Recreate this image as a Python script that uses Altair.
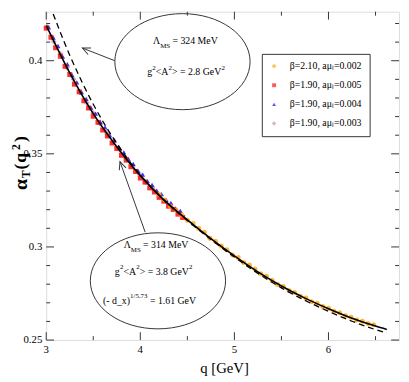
import altair as alt
import pandas as pd

# ---------------- data ----------------
series_names = ["β=2.10, aμₗ=0.002", "β=1.90, aμₗ=0.005",
                "β=1.90, aμₗ=0.004", "β=1.90, aμₗ=0.003"]
series_colors = ["#FFA500", "#FF0000", "#0000FF", "#BC8F8F"]
series_shapes = ["circle", "square", "triangle-up", "cross"]

q_orange = [4.20, 4.26, 4.32, 4.38, 4.44, 4.50, 4.56, 4.62, 4.68, 4.74, 4.80, 4.86, 4.92,
            4.98, 5.04, 5.10, 5.16, 5.22, 5.28, 5.34, 5.40, 5.46, 5.52, 5.58, 5.64, 5.70,
            5.76, 5.82, 5.88, 5.94, 6.00, 6.06, 6.12, 6.18, 6.24, 6.30, 6.36, 6.42, 6.48]
a_orange = [0.3282, 0.3252, 0.3219, 0.3199, 0.3172, 0.3143, 0.3126, 0.3100, 0.3079, 0.3047,
            0.3031, 0.3005, 0.2985, 0.2957, 0.2943, 0.2916, 0.2903, 0.2881, 0.2856, 0.2842,
            0.2821, 0.2798, 0.2788, 0.2766, 0.2756, 0.2735, 0.2726, 0.2706, 0.2698, 0.2680,
            0.2671, 0.2654, 0.2647, 0.2630, 0.2623, 0.2607, 0.2601, 0.2589, 0.2582]

q_red = [3.00, 3.05, 3.10, 3.15, 3.20, 3.25, 3.30, 3.35, 3.40, 3.45, 3.50, 3.55, 3.60, 3.65,
         3.70, 3.75, 3.80, 3.85, 3.90, 3.95, 4.00, 4.05, 4.10, 4.15, 4.20, 4.25, 4.30, 4.35,
         4.40, 4.45]
a_red = [0.4175, 0.4126, 0.4070, 0.4024, 0.3970, 0.3926, 0.3874, 0.3833, 0.3785, 0.3746,
         0.3702, 0.3669, 0.3628, 0.3596, 0.3558, 0.3529, 0.3492, 0.3466, 0.3431, 0.3405,
         0.3370, 0.3348, 0.3317, 0.3295, 0.3266, 0.3246, 0.3219, 0.3201, 0.3176, 0.3158]

q_blue = [3.025, 3.075, 3.125, 3.175, 3.225, 3.275, 3.325, 3.375, 3.425, 3.475, 3.525, 3.575,
          3.625, 3.675, 3.725, 3.775, 3.825, 3.875, 3.925, 3.975, 4.025, 4.075, 4.125, 4.175,
          4.225, 4.275, 4.325, 4.375, 4.425]
a_blue = [0.4180, 0.4124, 0.4079, 0.4022, 0.3981, 0.3923, 0.3884, 0.3831, 0.3795, 0.3748,
          0.3716, 0.3671, 0.3642, 0.3600, 0.3573, 0.3534, 0.3508, 0.3471, 0.3446, 0.3410,
          0.3388, 0.3353, 0.3333, 0.3302, 0.3284, 0.3252, 0.3236, 0.3207, 0.3194]

q_brown = [3.01, 3.08, 3.15, 3.22, 3.29, 3.36, 3.43, 3.50, 3.57, 3.64, 3.71, 3.78, 3.85, 3.92,
           3.99, 4.06, 4.13, 4.20, 4.27, 4.34, 4.41]
a_brown = [0.4182, 0.4103, 0.4038, 0.3962, 0.3900, 0.3829, 0.3775, 0.3719, 0.3661, 0.3615,
           0.3563, 0.3521, 0.3478, 0.3430, 0.3391, 0.3348, 0.3316, 0.3274, 0.3244, 0.3210,
           0.3184]

q_fit = [3.00, 3.25, 3.50, 3.75, 4.00, 4.25, 4.50, 4.75, 5.00, 5.25, 5.50, 5.75, 6.00,
         6.25, 6.50, 6.62]
a_fit_solid = [0.4190, 0.3935, 0.3716, 0.3538, 0.3383, 0.3253, 0.3145, 0.3045, 0.2952,
               0.2866, 0.2790, 0.2725, 0.2668, 0.2617, 0.2575, 0.2557]
a_fit_dashed = [0.4350, 0.4030, 0.3766, 0.3556, 0.3386, 0.3252, 0.3142, 0.3040, 0.2946,
                0.2858, 0.2780, 0.2713, 0.2654, 0.2601, 0.2556, 0.2537]

x_major = [3, 4, 5, 6]
x_labels = ["3", "4", "5", "6"]
x_minor = [3.5, 4.5, 5.5, 6.5]
y_major = [0.25, 0.30, 0.35, 0.40]
y_labels = ["0.25", "0.3", "0.35", "0.4"]
y_minor = [0.26, 0.27, 0.28, 0.29, 0.31, 0.32, 0.33, 0.34, 0.36, 0.37, 0.38, 0.39, 0.41, 0.42]

# annotation placements (data coordinates)
ellipse_q = [4.448, 4.1875]
ellipse_a = [0.3995, 0.2818]
arrow_q0 = [3.729, 4.052]
arrow_a0 = [0.4000, 0.3079]
arrow_q1 = [3.385, 3.784]
arrow_a1 = [0.4068, 0.3458]
arrow_angle = [204.4, 250.4]

# ---------------- layout ----------------
W, H = 360, 335
OX, OY = 47, 8          # plot origin on the page
PX_PER_Q = 96.0
PX_PER_A = 95.0 / 0.05
FONT = "Liberation Serif, Times New Roman, serif"
INK = "#333"

xs = alt.Scale(domain=[3, 6.75], nice=False, zero=False)
ys = alt.Scale(domain=[0.25, 0.25 + H / PX_PER_A], nice=False, zero=False)


def to_q(px):
    return 3 + (px - OX) / PX_PER_Q


def to_a(py):
    return 0.25 + (OY + H - py) / PX_PER_A


def X(field):
    return alt.X(field, scale=xs, axis=None)


def Y(field):
    return alt.Y(field, scale=ys, axis=None)


rows = []
for name, qq, aa in [(series_names[0], q_orange, a_orange), (series_names[1], q_red, a_red),
                     (series_names[2], q_blue, a_blue), (series_names[3], q_brown, a_brown)]:
    for q, a in zip(qq, aa):
        rows.append({"q": q, "a": a, "s": name})
pts = pd.DataFrame(rows)

points = alt.Chart(pts).mark_point(filled=True, opacity=0.8, size=26).encode(
    x=X("q:Q"), y=Y("a:Q"),
    color=alt.Color("s:N", scale=alt.Scale(domain=series_names, range=series_colors),
                    legend=alt.Legend(title=None, orient="none", legendX=220, legendY=43,
                                      strokeColor=INK, fillColor="white", padding=7.5,
                                      labelFont=FONT, labelFontSize=10, labelColor="black",
                                      symbolSize=16, rowPadding=9.5, labelOffset=11,
                                      symbolOpacity=1)),
    shape=alt.Shape("s:N", scale=alt.Scale(domain=series_names, range=series_shapes),
                    legend=alt.Legend(title=None)),
    order=alt.Order("s:N"),
)

fit = pd.DataFrame({"q": q_fit, "solid": a_fit_solid, "dashed": a_fit_dashed})
solid = alt.Chart(fit).mark_line(color="black", strokeWidth=1.6, interpolate="monotone",
                                 clip=True).encode(x=X("q:Q"), y=Y("solid:Q"))
dashed = alt.Chart(fit).mark_line(color="black", strokeWidth=1.3, strokeDash=[6, 4],
                                  interpolate="monotone", clip=True).encode(
    x=X("q:Q"), y=Y("dashed:Q"))

k, r = 0.5523, 0.71
ell_path = (f"M1,0 C1,{k*r:.3f} {k},{r} 0,{r} C-{k},{r} -1,{k*r:.3f} -1,0 "
            f"C-1,-{k*r:.3f} -{k},-{r} 0,-{r} C{k},-{r} 1,-{k*r:.3f} 1,0 Z")
ell = alt.Chart(pd.DataFrame({"q": ellipse_q, "a": ellipse_a})).mark_point(
    shape=ell_path, size=138 * 138, filled=False, stroke=INK, strokeWidth=1,
    opacity=1).encode(x=X("q:Q"), y=Y("a:Q"))

arr = pd.DataFrame({"q0": arrow_q0, "a0": arrow_a0, "q1": arrow_q1, "a1": arrow_a1})
arrow_lines = alt.Chart(arr).mark_rule(color=INK, strokeWidth=1).encode(
    x=X("q0:Q"), y=Y("a0:Q"), x2="q1:Q", y2="a1:Q")
arrow_heads = [
    alt.Chart(arr.iloc[[i]]).mark_point(shape="M-1,-0.45 L0,0 L-1,0.45", size=256,
                                        filled=False, stroke=INK, strokeWidth=1,
                                        opacity=1, angle=arrow_angle[i]).encode(
        x=X("q1:Q"), y=Y("a1:Q"))
    for i in range(len(arrow_angle))
]


def text_layer(pieces, size, weight="normal", angle=0):
    df = pd.DataFrame([{"t": t, "q": to_q(x), "a": to_a(y)} for t, x, y in pieces])
    return alt.Chart(df).mark_text(font=FONT, fontSize=size, fontWeight=weight,
                                   align="left", baseline="alphabetic", color="black",
                                   angle=angle).encode(x=X("q:Q"), y=Y("a:Q"), text="t:N")


# annotation texts (page pixel positions of each piece)
ann_big = [
    ("Λ", 156, 41), ("= 324 MeV", 175.8, 41),
    ("g", 150, 73), ("<A", 158.8, 73), ("> = 2.8 GeV", 175.4, 73),
    ("Λ", 126, 249), ("= 314 MeV", 145.8, 249),
    ("g", 117, 277), ("<A", 125.8, 277), ("> = 3.8 GeV", 142.4, 277),
    ("(- d_x)", 105, 306), ("= 1.61 GeV", 152.8, 306),
]
ann_small = [
    ("MS", 163.3, 45), ("2", 155.2, 67), ("2", 171.8, 67), ("2", 225.8, 67),
    ("MS", 133.3, 253), ("2", 122.2, 271), ("2", 138.8, 271), ("2", 192.6, 271),
    ("1/5.73", 132.6, 300),
]

# y-axis title  α_T(q²), rotated (text runs upward)
yt_alpha = [("α", 27, 190)]
yt_sub = [("T", 30, 178), ("2", 20, 149)]
yt_main = [("(", 26, 169), ("q", 26, 162), (")", 26, 141)]

texts = [text_layer(ann_big, 10), text_layer(ann_small, 7),
         text_layer(yt_alpha, 20, "bold", 270), text_layer(yt_sub, 12, "bold", 270),
         text_layer(yt_main, 18, "bold", 270)]

# tick labels and x title
xl = alt.Chart(pd.DataFrame({"v": x_major, "t": x_labels})).mark_text(
    font=FONT, fontSize=11, align="center", baseline="top", color="black").encode(
    x=X("v:Q"), y=alt.value(H + 4), text="t:N")
yl = alt.Chart(pd.DataFrame({"v": y_major, "t": y_labels})).mark_text(
    font=FONT, fontSize=11, align="right", baseline="middle", color="black").encode(
    y=Y("v:Q"), x=alt.value(-4), text="t:N")
xtitle = alt.Chart(pd.DataFrame({"t": ["q [GeV]"]})).mark_text(
    font=FONT, fontSize=15, align="center", baseline="alphabetic", color="black").encode(
    x=alt.value(182), y=alt.value(369), text="t:N")


# inward ticks on all four sides
def xticks(vals, length):
    d = pd.DataFrame({"v": vals})
    b = alt.Chart(d).mark_rule(color=INK, strokeWidth=1).encode(
        x=X("v:Q"), y=alt.value(H), y2=alt.value(H - length))
    t = alt.Chart(d).mark_rule(color=INK, strokeWidth=1).encode(
        x=X("v:Q"), y=alt.value(0), y2=alt.value(length))
    return [b, t]


def yticks(vals, length):
    d = pd.DataFrame({"v": vals})
    l = alt.Chart(d).mark_rule(color=INK, strokeWidth=1).encode(
        y=Y("v:Q"), x=alt.value(0), x2=alt.value(length))
    rr = alt.Chart(d).mark_rule(color=INK, strokeWidth=1).encode(
        y=Y("v:Q"), x=alt.value(W), x2=alt.value(W - length))
    return [l, rr]


tick_layers = xticks(x_major, 8) + xticks(x_minor, 4) + yticks(y_major, 8) + yticks(y_minor, 4)

chart = alt.layer(points, solid, dashed, ell, arrow_lines, *arrow_heads, *texts,
                  xl, yl, xtitle, *tick_layers).properties(
    width=W, height=H,
    padding={"left": 39, "top": 0, "right": 2, "bottom": 39},
    autosize=alt.AutoSizeParams(type="none"),
).configure_view(stroke="#222", strokeWidth=1.4).configure(background="white")

chart.save("out.html", embed_options={"renderer": "svg", "actions": False})
